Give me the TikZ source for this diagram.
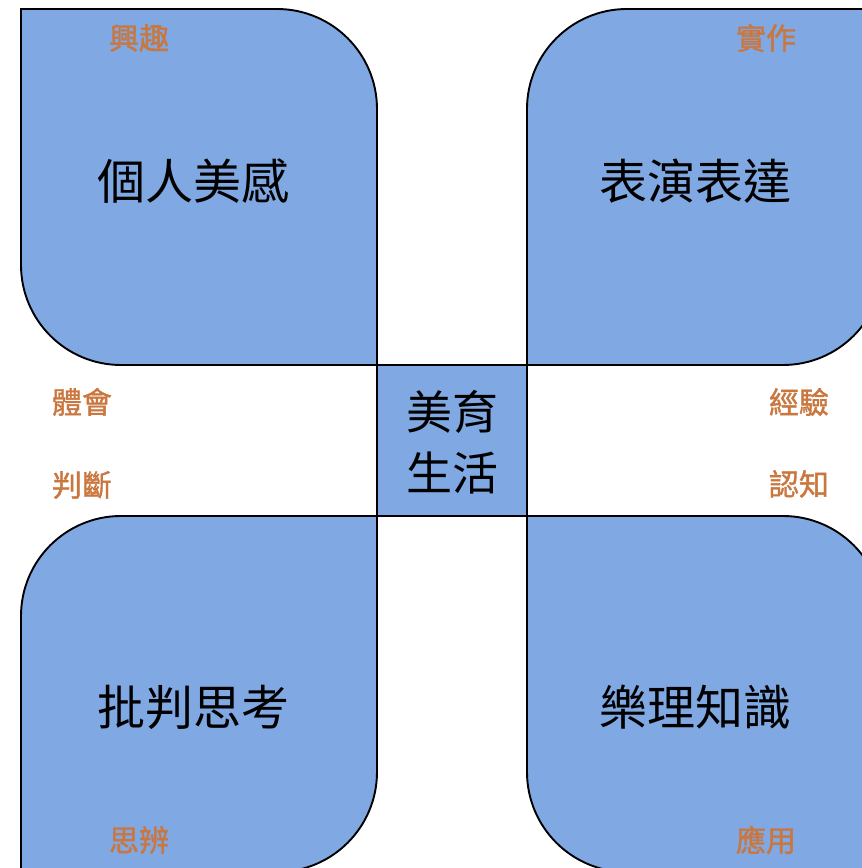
\documentclass[tikz,border=0pt]{standalone}
\usepackage{fontspec}
\newfontfamily\cjk{Noto Sans CJK TC}
\newfontfamily\cjktag[FakeBold=1.2]{Noto Sans CJK TC}
\definecolor{boxblue}{RGB}{128,168,226}
\definecolor{tagorange}{RGB}{201,119,63}
\begin{document}
\begin{tikzpicture}[x=1pt,y=1pt,
  quad/.style={fill=boxblue,draw=black,line width=1.9pt},
  mainlbl/.style={font=\cjk\fontsize{48}{54}\selectfont,text=black,inner sep=0pt},
  ctrlbl/.style={font=\cjk\fontsize{46}{61}\selectfont,text=black,inner sep=0pt,align=center},
  taglbl/.style={font=\cjktag\fontsize{30}{34}\selectfont,text=tagorange,inner sep=0pt}]
\useasboundingbox (0,0) rectangle (862,868);
\clip (0,0) rectangle (862,868);
% top-left
\draw[quad] (21,859) -- (277,859) arc[start angle=90,end angle=0,radius=100] -- (377,503) -- (121,503) arc[start angle=270,end angle=180,radius=100] -- cycle;
% top-right
\draw[quad] (527,503) -- (527,759) arc[start angle=180,end angle=90,radius=100] -- (883,859) -- (883,603) arc[start angle=0,end angle=-90,radius=100] -- cycle;
% bottom-left
\draw[quad] (21,-4) -- (21,252) arc[start angle=180,end angle=90,radius=100] -- (377,352) -- (377,96) arc[start angle=0,end angle=-90,radius=100] -- cycle;
% bottom-right
\draw[quad] (527,352) -- (783,352) arc[start angle=90,end angle=0,radius=100] -- (883,-4) -- (627,-4) arc[start angle=270,end angle=180,radius=100] -- cycle;
% centre
\draw[quad] (377,352) rectangle (527,503);
\node[mainlbl] (gerenmeigan) at (193,687) {個人美感};
\node[mainlbl] (biaoyan) at (695,687) {表演表達};
\node[mainlbl] (pipan) at (193,161) {批判思考};
\node[mainlbl] (yueli) at (695,161) {樂理知識};
\node[ctrlbl] (center) at (452,426) {美育\\生活};
\node[taglbl] (xingqu) at (139,830) {興趣};
\node[taglbl] (shizuo) at (766,830) {實作};
\node[taglbl] (tihui) at (82,466) {體會};
\node[taglbl] (panduan) at (82,383) {判斷};
\node[taglbl] (jingyan) at (799,466) {經驗};
\node[taglbl] (renzhi) at (799,384) {認知};
\node[taglbl] (sibian) at (139,28) {思辨};
\node[taglbl] (yingyong) at (766,28) {應用};
\end{tikzpicture}
\end{document}
